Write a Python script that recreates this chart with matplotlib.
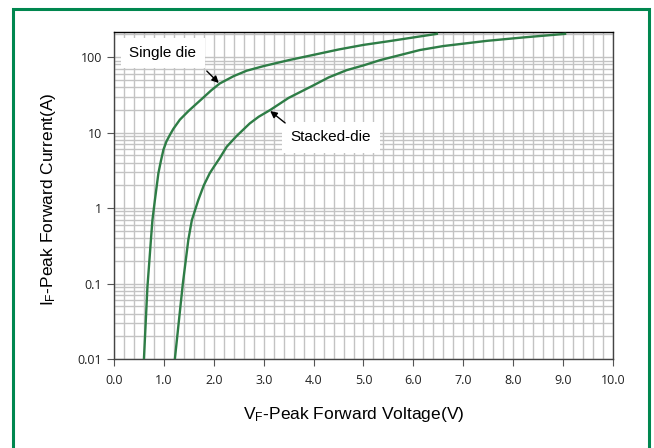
import matplotlib.pyplot as plt
from matplotlib.patches import Rectangle
from matplotlib.ticker import MultipleLocator, LogLocator, FixedLocator, FixedFormatter

# values
single_v = [0.60, 0.67, 0.72, 0.74, 0.77, 0.82, 0.89, 0.94, 0.99, 1.05, 1.12, 1.19, 1.32,
            1.50, 1.75, 1.95, 2.12, 2.40, 2.66, 3.00, 3.50, 4.00, 4.50, 5.00, 5.50, 6.00, 6.47]
single_i = [0.01, 0.09, 0.25, 0.38, 0.69, 1.28, 2.9, 4.2, 5.9, 7.6, 9.3, 11.2, 14.8,
            19.5, 27.5, 36.3, 44.7, 56, 66, 76, 91, 107, 126, 145, 162, 182, 203]

stacked_v = [1.22, 1.38, 1.49, 1.56, 1.69, 1.80, 1.92, 2.00, 2.12, 2.26, 2.45, 2.72, 2.90,
             3.13, 3.50, 3.99, 4.30, 4.66, 5.00, 5.33, 5.70, 6.13, 6.60, 7.47, 8.20, 9.04]
stacked_i = [0.01, 0.1, 0.38, 0.69, 1.28, 2.0, 2.9, 3.5, 4.6, 6.5, 8.9, 13.2, 16.2,
             19.9, 28.8, 42, 53.7, 67, 77.6, 91, 105, 124, 140, 164, 182, 203]

x_ticks = [0, 1, 2, 3, 4, 5, 6, 7, 8, 9, 10]
x_labels = ['%.1f' % t for t in x_ticks]
y_ticks = [0.01, 0.1, 1, 10, 100]
y_labels = ['0.01', '0.1', '1', '10', '100']

green = '#2e7d46'
grid_col = '#c3c3c3'

fig = plt.figure(figsize=(6.54, 4.48), dpi=100)
ax = fig.add_axes([0.1743, 0.1987, 0.763, 0.7299])

ax.plot(single_v, single_i, color=green, linewidth=1.7, zorder=3)
ax.plot(stacked_v, stacked_i, color=green, linewidth=1.7, zorder=3)

ax.set_yscale('log')
ax.set_xlim(0, 10)
ax.set_ylim(0.01, 215)

ax.xaxis.set_major_locator(FixedLocator(x_ticks))
ax.xaxis.set_major_formatter(FixedFormatter(x_labels))
ax.xaxis.set_minor_locator(MultipleLocator(0.2))
ax.yaxis.set_major_locator(FixedLocator(y_ticks))
ax.yaxis.set_major_formatter(FixedFormatter(y_labels))
ax.yaxis.set_minor_locator(LogLocator(base=10, subs=range(2, 10), numticks=20))

ax.grid(True, which='both', color=grid_col, linewidth=1.0)
ax.set_axisbelow(True)
ax.tick_params(axis='both', which='major', length=5, width=0.8, color='#555555',
               labelsize=9, labelcolor='#222222', direction='out')
ax.tick_params(axis='both', which='minor', length=0)
for lab in ax.get_xticklabels() + ax.get_yticklabels():
    lab.set_family('Open Sans')
ax.tick_params(axis='x', pad=6)

for s in ['left', 'bottom', 'right']:
    ax.spines[s].set_color('#444444')
    ax.spines[s].set_linewidth(1.0)
ax.spines['top'].set_color('#000000')
ax.spines['top'].set_linewidth(1.0)

ax.set_xlabel(r'$\mathregular{V_F}$-Peak Forward Voltage(V)', fontsize=12.5,
              family='Liberation Sans', labelpad=13)
ax.set_ylabel(r'$\mathregular{I_F}$-Peak Forward Current(A)', fontsize=12.5,
              family='Liberation Sans', labelpad=14)
ax.xaxis.label.set_x(0.48)
ax.yaxis.label.set_y(0.489)

box = dict(boxstyle='square,pad=0.55', facecolor='white', edgecolor='none')
ax.text(0.98, 113, 'Single die', fontsize=11, family='Liberation Sans',
        ha='center', va='center', bbox=box, zorder=4)
ax.text(4.35, 8.7, 'Stacked-die', fontsize=11, family='Liberation Sans',
        ha='center', va='center', bbox=box, zorder=4)
arrow = dict(arrowstyle='-|>', color='black', lw=1.0, mutation_scale=10,
             shrinkA=0, shrinkB=0)
ax.annotate('', xy=(2.10, 45.3), xytext=(1.86, 65.3), arrowprops=arrow, zorder=5)
ax.annotate('', xy=(3.13, 19.3), xytext=(3.43, 13.4), arrowprops=arrow, zorder=5)

# green frame around the chart
fig.patches.append(Rectangle((12.5 / 654, -0.05), (649 - 12.5) / 654, 1.05 - 9 / 448,
                             transform=fig.transFigure, fill=False,
                             edgecolor='#00874f', linewidth=2.2))

fig.savefig('out.png', dpi=100)
